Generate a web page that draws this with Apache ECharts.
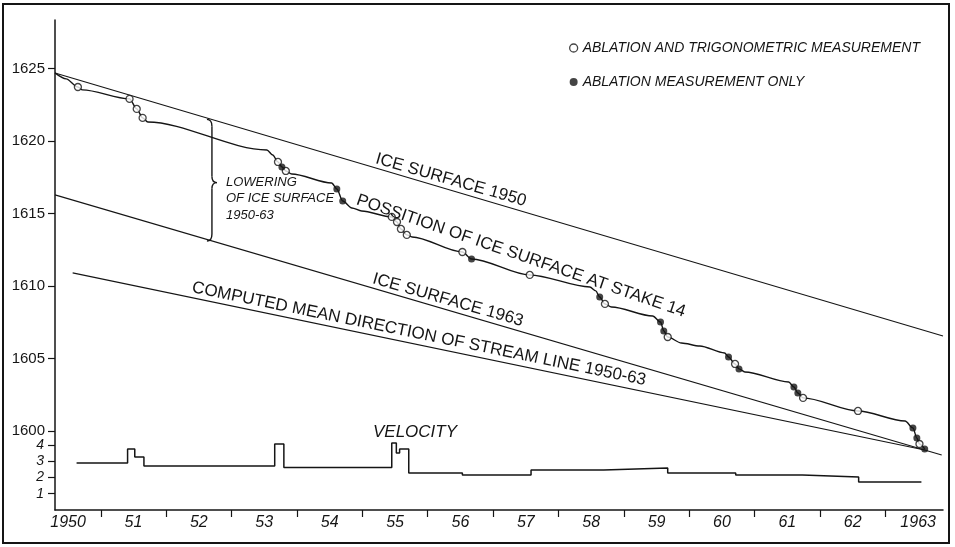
<!DOCTYPE html>
<html>
<head>
<meta charset="utf-8">
<script src="https://cdn.jsdelivr.net/npm/echarts@6/dist/echarts.min.js"></script>
<style>
html,body{margin:0;padding:0;background:#fff;}
#c{width:955px;height:547px;}
</style>
</head>
<body>
<div id="c"></div>
<script>
// ---------------- data ----------------
// x in decimal years, elevation in metres a.s.l., velocity on its own small scale
const xTickYears  = [1951,1952,1953,1954,1955,1956,1957,1958,1959,1960,1961,1962,1963];
const xLabelYears = [1950,1951,1952,1953,1954,1955,1956,1957,1958,1959,1960,1961,1962,1963];
const xLabelText  = ['1950','51','52','53','54','55','56','57','58','59','60','61','62','1963'];
const elevTicks   = [1600,1605,1610,1615,1620,1625];
const velTicks    = [1,2,3,4];

const xMin = 1950.3, xMax = 1963.88;
const elevMin = 1594.55, elevMax = 1628.34;
const velMin = 0, velMax = 30.15;

const ice1950Years = [1950.30, 1963.88];
const ice1950Elev  = [1624.69, 1606.55];
const ice1963Years = [1950.30, 1963.86];
const ice1963Elev  = [1616.28, 1598.34];
const meanDirYears = [1950.57, 1963.60];
const meanDirElev  = [1610.90, 1598.69];

const stakeYears = [1950.30,1950.47,1950.65,1950.72,1951.44,1951.55,1951.64,1951.72,1953.54,1953.63,
                    1953.71,1953.77,1953.83,1953.92,1954.53,1954.61,1954.70,1954.84,1954.99,1955.45,
                    1955.53,1955.59,1955.68,1955.76,1956.53,1956.67,1957.56,1958.48,1958.57,1958.63,
                    1958.71,1958.81,1959.44,1959.56,1959.61,1959.67,1959.88,1960.16,1960.54,1960.60,
                    1960.70,1960.76,1960.85,1961.52,1961.60,1961.66,1961.74,1962.58,1963.30,1963.42,
                    1963.48,1963.52,1963.60];
const stakeElev  = [1624.69,1624.28,1623.72,1623.52,1622.90,1622.21,1621.59,1621.31,1619.38,1619.03,
                    1618.55,1618.21,1617.93,1617.72,1617.10,1616.69,1615.86,1615.38,1615.17,1614.76,
                    1614.41,1613.93,1613.52,1613.38,1612.34,1611.86,1610.76,1609.93,1609.66,1609.24,
                    1608.76,1608.55,1607.93,1607.52,1606.90,1606.48,1606.07,1605.86,1605.38,1605.10,
                    1604.62,1604.28,1604.07,1603.38,1603.03,1602.62,1602.28,1601.38,1600.69,1600.21,
                    1599.52,1599.10,1598.76];
// 'o' = ablation and trigonometric measurement, 'f' = ablation measurement only, '-' = curve only
const stakeKind  = ['-','-','o','-','o','o','o','-','-','-',
                    'o','f','o','-','-','f','f','-','-','o',
                    'o','o','o','-','o','f','o','-','-','f',
                    'o','-','-','f','f','o','-','-','-','f',
                    'o','f','-','-','f','f','o','o','-','f',
                    'f','o','f'];

const velYears  = [1950.63,1951.41,1951.52,1951.66,1953.66,1953.80,1955.45,1955.52,1955.57,1955.71,
                   1956.53,1957.58,1958.69,1959.67,1960.71,1961.73,1962.59,1963.55];
const velValues = [2.89,3.75,3.26,2.71,4.06,2.62,4.12,3.50,3.75,2.28,
                   2.15,2.46,2.58,2.28,2.15,2.03,1.72,1.72];

const braceYear = 1952.7;

const nameOpen   = 'ABLATION AND TRIGONOMETRIC MEASUREMENT';
const nameFilled = 'ABLATION MEASUREMENT ONLY';

// ---------------- chart ----------------
const FONT = '"Liberation Sans", Arial, sans-serif';
const INK = '#151515';
const zip = (a, b) => a.map((v, i) => [v, b[i]]);
const pick = k => stakeYears.map((y, i) => [y, stakeElev[i], stakeKind[i]])
                            .filter(p => p[2] === k).map(p => [p[0], p[1]]);

const chart = echarts.init(document.getElementById('c'), null, {renderer: 'canvas'});

const plainLine = (data, w) => ({
  type: 'line', data, symbol: 'none', silent: true, z: 2,
  lineStyle: {color: INK, width: w}
});

chart.setOption({
  animation: false,
  backgroundColor: '#ffffff',
  grid: {left: 55, right: 12, top: 20, bottom: 37, outerBoundsMode: 'none'},
  legend: {
    orient: 'vertical', left: 569, top: 40, itemWidth: 8, itemHeight: 8, itemGap: 18,
    icon: 'circle', padding: 0, selectedMode: false,
    textStyle: {fontFamily: FONT, fontSize: 14, fontStyle: 'italic', color: INK, lineHeight: 16},
    data: [
      {name: nameOpen, itemStyle: {color: '#fff', borderColor: INK, borderWidth: 1.3}},
      {name: nameFilled, itemStyle: {color: INK}}
    ]
  },
  xAxis: {
    type: 'value', min: xMin, max: xMax,
    axisLine: {show: true, lineStyle: {color: INK, width: 1.5}},
    axisTick: {show: true, customValues: xTickYears, length: 7, lineStyle: {color: INK, width: 1.2}},
    axisLabel: {
      customValues: xLabelYears.map(y => y + 0.5),
      formatter: v => xLabelText[xLabelYears.indexOf(Math.floor(v))],
      margin: 5, fontFamily: FONT, fontSize: 16, fontStyle: 'italic', color: INK
    },
    splitLine: {show: false}
  },
  yAxis: [
    {
      type: 'value', min: elevMin, max: elevMax, position: 'left',
      axisLine: {show: true, lineStyle: {color: INK, width: 1.5}},
      axisTick: {show: true, customValues: elevTicks, length: 7, lineStyle: {color: INK, width: 1.2}},
      axisLabel: {customValues: elevTicks, formatter: v => String(v), margin: 10,
                  fontFamily: FONT, fontSize: 15, color: INK},
      splitLine: {show: false}
    },
    {
      type: 'value', min: velMin, max: velMax, position: 'left',
      axisLine: {show: false},
      axisTick: {show: true, customValues: velTicks, length: 7, lineStyle: {color: INK, width: 1.2}},
      axisLabel: {customValues: velTicks, formatter: v => String(v), margin: 11,
                  fontFamily: FONT, fontSize: 14, fontStyle: 'italic', color: INK},
      splitLine: {show: false}
    }
  ],
  series: [
    plainLine(zip(ice1950Years, ice1950Elev), 1.1),
    plainLine(zip(ice1963Years, ice1963Elev), 1.1),
    plainLine(zip(meanDirYears, meanDirElev), 1.1),
    {
      type: 'line', name: 'stake14', data: zip(stakeYears, stakeElev), symbol: 'none',
      smooth: 0.3, smoothMonotone: 'x', silent: true, z: 3,
      lineStyle: {color: INK, width: 1.4}
    },
    {
      type: 'scatter', name: nameOpen, data: pick('o'), symbol: 'circle', symbolSize: 7, z: 5,
      itemStyle: {color: '#fff', borderColor: INK, borderWidth: 1.3}
    },
    {
      type: 'scatter', name: nameFilled, data: pick('f'), symbol: 'circle', symbolSize: 7, z: 5,
      itemStyle: {color: INK}
    },
    {
      type: 'line', name: 'velocity', yAxisIndex: 1, step: 'end', data: zip(velYears, velValues),
      symbol: 'none', silent: true, lineStyle: {color: INK, width: 1.5}
    }
  ]
});

// ---------------- annotations ----------------
function interp(xs, ys, x) {
  const t = (x - xs[0]) / (xs[1] - xs[0]);
  return ys[0] + t * (ys[1] - ys[0]);
}
const braceTop = chart.convertToPixel({xAxisIndex: 0, yAxisIndex: 0}, [braceYear, interp(ice1950Years, ice1950Elev, braceYear)]);
const braceBot = chart.convertToPixel({xAxisIndex: 0, yAxisIndex: 0}, [braceYear, interp(ice1963Years, ice1963Elev, braceYear)]);
const bx = braceTop[0], ty = braceTop[1], by = braceBot[1], my = ty + (by - ty) * 0.52;
const braceStyle = {stroke: INK, lineWidth: 1.4, fill: 'none'};
const bez = (x1, y1, cx, cy, x2, y2) => ({
  type: 'bezierCurve', silent: true, z: 10,
  shape: {x1, y1, x2, y2, cpx1: cx, cpy1: cy}, style: braceStyle
});
const seg = (x1, y1, x2, y2) => ({
  type: 'line', silent: true, z: 10, shape: {x1, y1, x2, y2}, style: braceStyle
});

const rotText = (text, x, y, deg, size, italic) => ({
  type: 'text', x, y, rotation: -deg * Math.PI / 180, silent: true, z: 10,
  style: {text, fill: INK, fontFamily: FONT, fontSize: size, fontStyle: italic ? 'italic' : 'normal',
          align: 'center', verticalAlign: 'middle'}
});
const leftText = (text, x, y, size) => ({
  type: 'text', x, y, silent: true, z: 10,
  style: {text, fill: INK, fontFamily: FONT, fontSize: size, fontStyle: 'italic',
          align: 'left', verticalAlign: 'middle'}
});

chart.setOption({
  graphic: [
    {type: 'rect', silent: true, z: 0, shape: {x: 3, y: 4, width: 946, height: 539},
     style: {fill: 'none', stroke: INK, lineWidth: 2}},
    bez(bx - 5, ty, bx, ty, bx, ty + 7),
    seg(bx, ty + 7, bx, my - 6),
    bez(bx, my - 6, bx, my, bx + 5, my),
    bez(bx + 5, my, bx, my, bx, my + 6),
    seg(bx, my + 6, bx, by - 7),
    bez(bx, by - 7, bx, by, bx - 5, by),
    rotText('ICE SURFACE 1950', 451, 180, 16, 17, false),
    rotText('POSSITION OF ICE SURFACE AT STAKE 14', 521, 256, 19, 17, false),
    rotText('ICE SURFACE 1963', 448, 300, 16, 17, false),
    rotText('COMPUTED MEAN DIRECTION OF STREAM LINE 1950-63', 419, 334, 11.6, 17, false),
    rotText('VELOCITY', 415, 432, 0, 17, true),
    leftText('LOWERING', 226, 182, 13),
    leftText('OF ICE SURFACE', 226, 198, 13),
    leftText('1950-63', 226, 215, 13)
  ]
});
</script>
</body>
</html>
